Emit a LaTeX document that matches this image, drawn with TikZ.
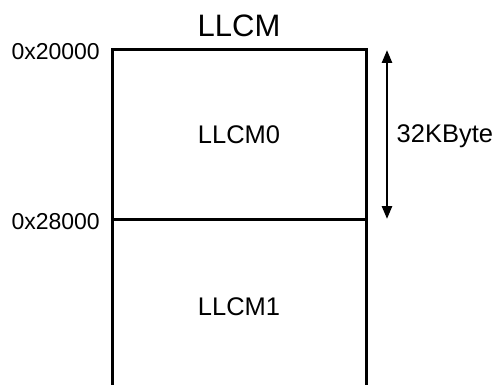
\documentclass[tikz,border=0pt]{standalone}
\usepackage{fontspec}
\setmainfont{Liberation Sans}
\usetikzlibrary{arrows.meta,positioning}

\begin{document}
\begin{tikzpicture}[x=1pt, y=-1pt,
  region/.style={draw, line width=3pt, minimum width=254pt, minimum height=169pt,
                 inner sep=0pt, outer sep=0pt, font=\fontsize{25.5}{30}\selectfont},
  regionlbl/.style={inner sep=0pt, font=\fontsize{25.5}{30}\selectfont},
  addr/.style={anchor=east, inner sep=0pt, font=\fontsize{23}{27}\selectfont},
  sizelbl/.style={anchor=west, inner sep=0pt, font=\fontsize{25.5}{30}\selectfont},
  ttl/.style={inner sep=0pt, font=\fontsize{31}{36}\selectfont},
  sizearr/.style={{Triangle[length=13pt,width=10pt]}-{Triangle[length=13pt,width=10pt]}, line width=2.6pt},
  edge/.style={line width=3pt}
]
  \useasboundingbox (0,0) rectangle (500,385);

  % memory regions
  \node[region]    (llcm0) at (239,134.5) {LLCM0};
  \node[regionlbl] (llcm1) at (239,307)   {LLCM1};
  \node[ttl]       (title) at (239,26)    {LLCM};
  \coordinate (bottom) at (0,386);
  \draw[edge] (llcm0.south west) -- (llcm0.south west |- bottom);
  \draw[edge] (llcm0.south east) -- (llcm0.south east |- bottom);

  % addresses
  \node[addr, yshift=-1.5pt] (a20000) at (100,50)  {0x20000};
  \node[addr, yshift=-2.5pt] (a28000) at (100,219) {0x28000};

  % size
  \coordinate (sztop) at (387,50);
  \coordinate (szbot) at (387,219);
  \draw[sizearr] (szbot) -- (sztop);
  \node[sizelbl] (size) at (396.5,136) {32KByte};
\end{tikzpicture}
\end{document}
